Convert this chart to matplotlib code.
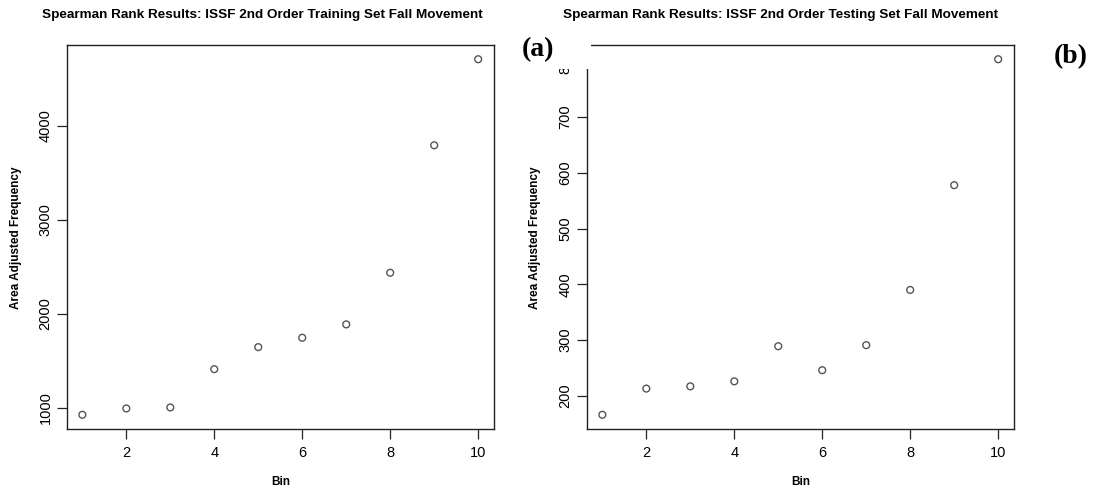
import matplotlib
matplotlib.use("Agg")
import matplotlib.pyplot as plt
from matplotlib.patches import Rectangle

# ---- Data ----
bins = [1, 2, 3, 4, 5, 6, 7, 8, 9, 10]
train_freq = [926, 993, 1004, 1411, 1645, 1745, 1887, 2436, 3791, 4706]
test_freq = [166, 213, 217, 226, 289, 246, 291, 390, 578, 804]

x_ticks = [2, 4, 6, 8, 10]
train_yticks = [1000, 2000, 3000, 4000]
test_yticks = [200, 300, 400, 500, 600, 700, 800]

train_title = "Spearman Rank Results: ISSF 2nd Order Training Set Fall Movement"
test_title = "Spearman Rank Results: ISSF 2nd Order Testing Set Fall Movement"

plt.rcParams['font.family'] = ['Liberation Sans', 'DejaVu Sans']

W, H = 1093, 491
fig = plt.figure(figsize=(W / 100, H / 100), dpi=100)


def px(x0, y0, x1, y1):
    # pixel box (top-left origin) -> figure fraction rect
    return [x0 / W, 1 - y1 / H, (x1 - x0) / W, (y1 - y0) / H]


def draw_panel(rect, y, yticks, title, title_x, label_x, ylab_x):
    ax = fig.add_axes(rect)
    ax.scatter(bins, y, s=24, facecolors='none', edgecolors='#555555', linewidths=1.0)
    ax.margins(x=0.04, y=0.04)
    ax.set_xticks(x_ticks)
    ax.set_yticks(yticks)
    ax.tick_params(direction='out', length=7, width=0.9, color='#222222', labelsize=10.5)
    ax.tick_params(axis='x', pad=5)
    ax.tick_params(axis='y', pad=3)
    for lab in ax.get_yticklabels():
        lab.set_rotation(90)
        lab.set_va('center')
    for sp in ax.spines.values():
        sp.set_color('#222222')
        sp.set_linewidth(1.0)
    fig.text(title_x / W, 1 - 15 / H, title, ha='center', va='center',
             fontsize=9.7, fontweight='bold')
    fig.text(label_x / W, 1 - 482 / H, "Bin", ha='center', va='center',
             fontsize=8.5, fontweight='bold')
    fig.text(ylab_x / W, 1 - 238 / H, "Area Adjusted Frequency", ha='center',
             va='center', rotation=90, fontsize=8.5, fontweight='bold')
    return ax


ax1 = draw_panel(px(66.5, 45, 494, 429), train_freq, train_yticks,
                 train_title, 262, 281, 16)
ax2 = draw_panel(px(586.5, 45, 1014, 429), test_freq, test_yticks,
                 test_title, 781, 801, 535)

# white patch where the "(a)" label was pasted over the right panel
fig.patches.append(Rectangle((515 / W, 1 - 69 / H), 76 / W, 31 / H,
                             transform=fig.transFigure, facecolor='white',
                             edgecolor='none', zorder=5))

fig.text(538 / W, 1 - 50 / H, "(a)", ha='center', va='center', fontsize=20,
         fontweight='bold', family=['Liberation Serif'], zorder=6)
fig.text(1071 / W, 1 - 57 / H, "(b)", ha='center', va='center', fontsize=20,
         fontweight='bold', family=['Liberation Serif'], zorder=6)

fig.savefig("out.png", dpi=100)
